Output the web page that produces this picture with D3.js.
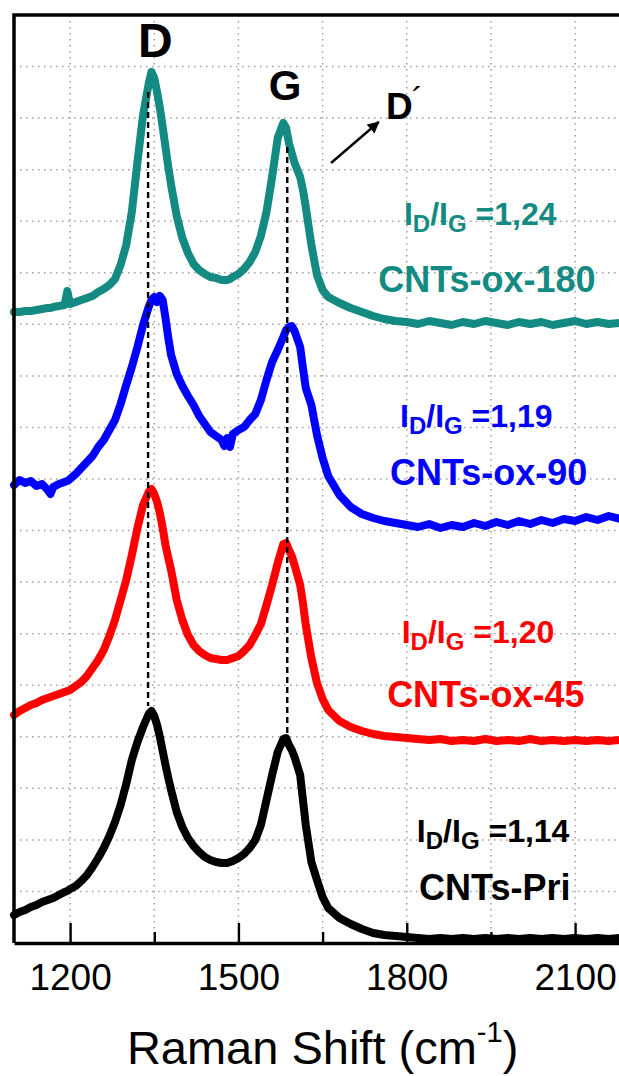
<!DOCTYPE html>
<html>
<head>
<meta charset="utf-8">
<script src="https://cdn.jsdelivr.net/npm/d3@7"></script>
<style>
  html, body { margin: 0; padding: 0; background: #fff; }
  svg { display: block; }
</style>
</head>
<body>
<svg id="chart" width="619" height="1076"></svg>
<script>
// Raman shift sampling points (cm^-1), shared by all spectra
const shift = [1100,1110,1120,1130,1140,1150,1160,1165,1170,1180,1190,1195,1200,1210,1220,1230,1240,1250,1260,1270,1280,1290,1300,1310,1320,1330,1340,1345,1350,1355,1360,1365,1370,1375,1380,1390,1400,1410,1420,1430,1440,1450,1460,1470,1475,1480,1485,1490,1500,1510,1520,1530,1540,1550,1560,1570,1580,1585,1590,1595,1600,1610,1615,1620,1630,1640,1650,1660,1680,1700,1720,1740,1760,1780,1800,1820,1840,1860,1880,1900,1920,1940,1960,1980,2000,2020,2040,2060,2080,2100,2120,2140,2160,2180,2200];

// Stacked intensities (a.u., offset for display)
const pristine = [28,31,33,36,38,41,43,44,45,48,51,52,54,57,62,68,76,85,95,107,121,138,159,183,201,216,229,232,227,218,206,192,178,165,153,131,116,105,97,91,86,83,81,80,80,80,81,82,85,89,95,103,118,143,168,191,204,205,198,193,186,168,143,118,81,63,46,35,25,19,14,10,8,7,6,5,4,5,4,5,4,5,4,5,4,5,4,5,4,5,4,5,4,5,4];
const ox45 = [228,232,235,238,240,243,245,246,247,249,251,252,253,257,261,267,275,283,293,307,323,343,363,388,415,438,451,454,449,441,430,415,398,385,373,343,323,308,298,292,288,285,284,283,283,283,284,285,287,292,298,308,319,338,358,380,399,400,393,387,378,358,340,318,285,260,244,233,222,216,212,209,207,206,205,204,203,204,202,203,202,204,202,203,202,204,202,203,202,203,202,203,202,203,203];
const ox90 = [458,463,460,462,457,459,453,449,456,459,461,462,464,469,475,481,487,496,503,513,523,539,558,576,596,618,636,643,646,641,647,643,625,605,588,569,557,547,538,527,519,511,507,503,497,505,496,509,513,516,523,529,543,563,581,593,606,613,616,617,612,596,575,555,538,508,485,467,448,436,429,425,422,420,418,416,419,415,418,416,420,417,421,418,422,419,423,420,424,422,426,423,427,424,428];
const ox180 = [631,631,632,632,633,634,635,635,636,637,638,652,639,641,643,645,647,651,654,658,664,678,698,731,781,828,859,871,865,851,835,816,796,776,758,727,705,690,679,673,669,666,665,663,663,663,664,666,669,674,681,691,707,731,766,805,820,815,800,790,780,766,753,736,698,668,653,646,640,635,631,627,624,622,621,619,622,620,618,621,619,622,620,618,621,619,621,618,620,622,619,621,619,620,621];

const sampleNames = ["CNTs-Pri", "CNTs-ox-45", "CNTs-ox-90", "CNTs-ox-180"];
const ratioValues = ["1,14", "1,20", "1,19", "1,24"];
const seriesColors = ["#000000", "#ff0000", "#0000ff", "#138a82"];
const seriesValues = [pristine, ox45, ox90, ox180];

const majorTicks = [1200, 1500, 1800, 2100];
const minorTicks = [1350, 1650, 1950];
const gridShift = [1200, 1350, 1500, 1650, 1800, 1950, 2100];
const bandPositions = [{band: "D", shift: 1339}, {band: "G", shift: 1587}];

const svg = d3.select("#chart");
const plotLeft = 14, plotRight = 631.2, plotTop = 15, plotBottom = 943;

const x = d3.scaleLinear().domain([1100, 2200]).range([plotLeft, plotRight]);
const y = d3.scaleLinear().domain([0, 928]).range([plotBottom, plotTop]);

// dotted grid
const gridG = svg.append("g").attr("stroke", "#a0a0a0").attr("stroke-width", 1.5)
  .attr("stroke-dasharray", "1.5 4.5");
gridG.selectAll("line.v").data(gridShift).join("line").attr("class", "v")
  .attr("x1", d => x(d)).attr("x2", d => x(d)).attr("y1", plotTop).attr("y2", plotBottom);
const hGrid = d3.range(1, 18).map(i => 928 * i / 18);
gridG.selectAll("line.h").data(hGrid).join("line").attr("class", "h")
  .attr("x1", plotLeft).attr("x2", plotRight).attr("y1", d => y(d)).attr("y2", d => y(d));

// spectra
const line = d3.line().x(d => x(d[0])).y(d => y(d[1]));
svg.append("g").selectAll("path").data(seriesValues).join("path")
  .attr("d", vals => line(shift.map((s, i) => [s, vals[i]])))
  .attr("fill", "none")
  .attr("stroke", (d, i) => seriesColors[i])
  .attr("stroke-width", 8)
  .attr("stroke-linejoin", "round")
  .attr("stroke-linecap", "round");

// dashed guides through the D and G bands
const guideEnds = {D: [851, 237], G: [796, 210]};
svg.append("g").selectAll("line").data(bandPositions).join("line")
  .attr("x1", d => x(d.shift)).attr("x2", d => x(d.shift))
  .attr("y1", d => y(guideEnds[d.band][0])).attr("y2", d => y(guideEnds[d.band][1]))
  .attr("stroke", "#000").attr("stroke-width", 2.4).attr("stroke-dasharray", "6 4");

// band labels
const bold = "'Liberation Sans', Arial, Helvetica, sans-serif";
svg.append("text").attr("x", x(1352)).attr("y", y(886)).attr("text-anchor", "middle")
  .attr("font-family", bold).attr("font-weight", "bold").attr("font-size", 48).text("D");
svg.append("text").attr("x", x(1583)).attr("y", y(843)).attr("text-anchor", "middle")
  .attr("font-family", bold).attr("font-weight", "bold").attr("font-size", 42).text("G");
const dPrime = svg.append("text").attr("x", x(1763)).attr("y", y(824))
  .attr("font-family", bold).attr("font-weight", "bold").attr("font-size", 37);
dPrime.append("tspan").text("D");
dPrime.append("tspan").attr("font-weight", "normal").attr("font-size", 34)
  .attr("dx", -1).attr("dy", -8).text("\u00B4");

// arrow pointing to D'
svg.append("defs").append("marker").attr("id", "head")
  .attr("viewBox", "0 0 10 10").attr("refX", 9).attr("refY", 5)
  .attr("markerWidth", 5).attr("markerHeight", 5).attr("orient", "auto")
  .append("path").attr("d", "M0,0 L10,5 L0,10 Z").attr("fill", "#000");
svg.append("line")
  .attr("x1", x(1665)).attr("y1", y(780)).attr("x2", x(1750)).attr("y2", y(821))
  .attr("stroke", "#000").attr("stroke-width", 2.4).attr("marker-end", "url(#head)");

// ratio and sample labels
const labelPos = [
  {ratio: [1818, 101], name: [1822, 43]},
  {ratio: [1791, 300], name: [1765, 236]},
  {ratio: [1788, 516], name: [1770, 458]},
  {ratio: [1795, 718], name: [1749, 651]}
];
labelPos.forEach((p, i) => {
  const t = svg.append("text").attr("x", x(p.ratio[0])).attr("y", y(p.ratio[1]))
    .attr("font-family", bold).attr("font-weight", "bold").attr("font-size", 32)
    .attr("fill", seriesColors[i]);
  t.append("tspan").text("I");
  t.append("tspan").attr("font-size", 24).attr("dy", 7).text("D");
  t.append("tspan").attr("dy", -7).text("/I");
  t.append("tspan").attr("font-size", 24).attr("dy", 7).text("G");
  t.append("tspan").attr("dy", -7).text(" =" + ratioValues[i]);
  svg.append("text").attr("x", x(p.name[0])).attr("y", y(p.name[1]))
    .attr("font-family", bold).attr("font-weight", "bold").attr("font-size", 36)
    .attr("fill", seriesColors[i]).text(sampleNames[i]);
});

// frame
svg.append("path")
  .attr("d", `M${plotLeft},${plotBottom} V${plotTop} H${plotRight + 2}`)
  .attr("fill", "none").attr("stroke", "#000").attr("stroke-width", 3.5);

// bottom axis with inward ticks
const axisG = svg.append("g").attr("transform", `translate(0,${plotBottom})`);
axisG.call(d3.axisBottom(x).tickValues(majorTicks).tickSizeInner(-20).tickSizeOuter(0)
  .tickPadding(21).tickFormat(d3.format("d")));
axisG.select(".domain").attr("stroke-width", 3.5);
axisG.selectAll(".tick line").attr("stroke-width", 2.4);
axisG.selectAll(".tick text").attr("font-family", "'Liberation Sans', Arial, sans-serif")
  .attr("font-size", 37).attr("fill", "#000");
const minorG = svg.append("g").attr("transform", `translate(0,${plotBottom})`);
minorG.call(d3.axisBottom(x).tickValues(minorTicks).tickSizeInner(-11).tickSizeOuter(0).tickFormat(""));
minorG.select(".domain").remove();
minorG.selectAll(".tick line").attr("stroke-width", 2.4);

// axis title
const title = svg.append("text").attr("x", x(1650)).attr("y", 1064).attr("text-anchor", "middle")
  .attr("font-family", "'Liberation Sans', Arial, sans-serif").attr("font-size", 47).attr("fill", "#000");
title.append("tspan").text("Raman Shift (cm");
title.append("tspan").attr("font-size", 29).attr("dy", -22).text("-1");
title.append("tspan").attr("dy", 22).text(")");
</script>
</body>
</html>
